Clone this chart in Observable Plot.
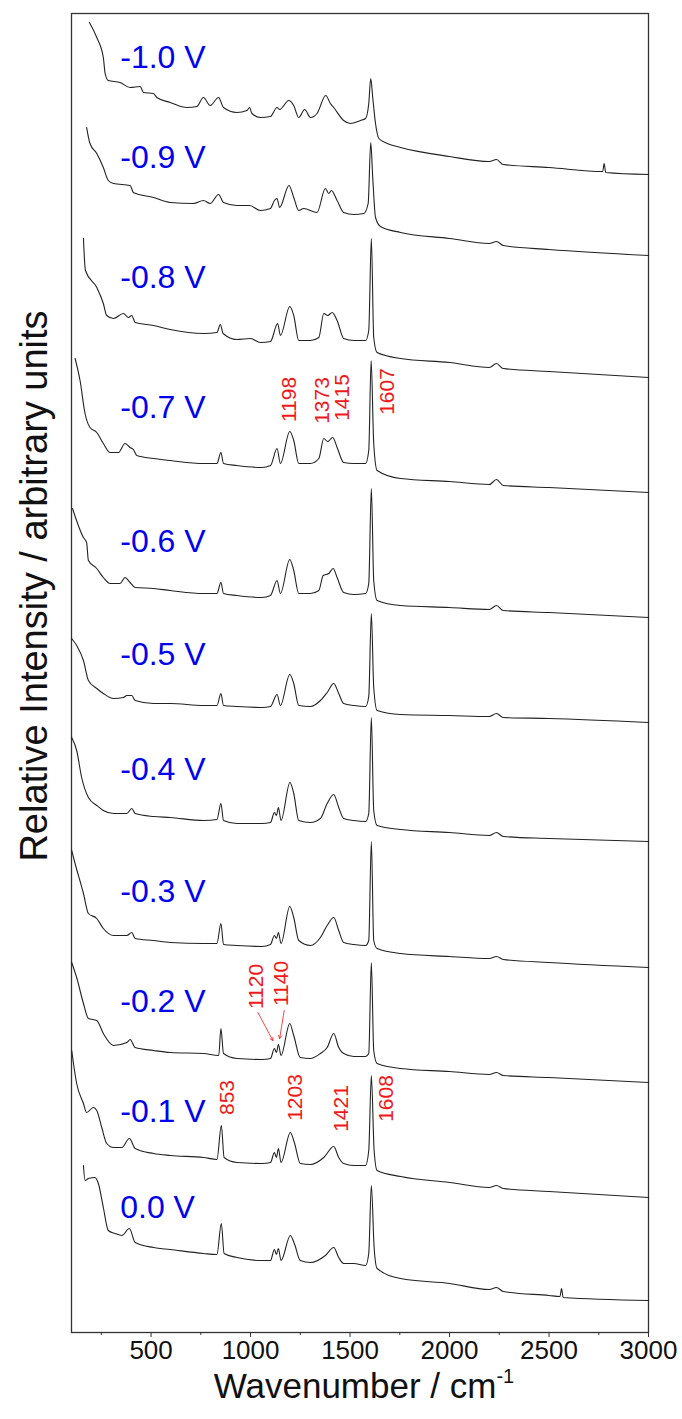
<!DOCTYPE html>
<html><head><meta charset="utf-8">
<script src="https://cdn.jsdelivr.net/npm/d3@7"></script>
<script src="https://cdn.jsdelivr.net/npm/@observablehq/plot@0.6"></script>
<style>body{margin:0;background:#fff}#chart{width:682px;height:1419px}</style>
</head><body><div id="chart"></div>
<script>
// Spectra: [wavenumber (cm-1), relative intensity incl. stacking offset (arb. units)]
const spectrum_m10 = [[190,1310],[227,1295],[260,1275],[269,1259],[285,1252],[344,1250],[395,1245],[445,1246],[462,1240],[512,1239],[529,1235],[596,1230],[680,1225],[730,1226],[763,1235],[797,1227],[839,1235],[864,1225],[931,1220],[982,1222],[995,1225],[1007,1219],[1049,1215],[1100,1216],[1133,1225],[1146,1223],[1192,1232],[1217,1227],[1242,1215],[1272,1223],[1301,1215],[1334,1219],[1378,1237],[1401,1229],[1418,1225],[1468,1212],[1502,1209],[1552,1212],[1578,1214],[1594,1229],[1604,1254],[1614,1235],[1628,1209],[1645,1194],[1687,1189],[1754,1185],[2000,1176],[2200,1171],[2236,1173],[2270,1168],[2500,1165],[2770,1161],[2777,1169],[2785,1160],[3000,1158]];
const spectrum_m09 = [[176,1205],[193,1189],[227,1179],[260,1165],[285,1152],[311,1149],[395,1147],[411,1140],[512,1135],[596,1130],[713,1129],[763,1132],[797,1129],[839,1138],[864,1130],[931,1127],[995,1127],[1049,1122],[1100,1124],[1120,1132],[1133,1134],[1146,1125],[1193,1147],[1217,1135],[1242,1122],[1267,1124],[1334,1120],[1376,1144],[1393,1139],[1406,1142],[1435,1132],[1468,1120],[1519,1118],[1569,1119],[1591,1129],[1604,1190],[1614,1155],[1628,1115],[1653,1106],[1754,1100],[2000,1094],[2200,1089],[2236,1091],[2270,1087],[2500,1083],[3000,1077]];
const spectrum_m08 = [[160,1094],[170,1062],[227,1045],[260,1029],[277,1017],[311,1014],[361,1019],[386,1015],[403,1017],[420,1010],[512,1007],[596,1003],[764,999],[831,1000],[848,1008],[862,999],[931,993],[999,994],[1049,990],[1100,991],[1136,1009],[1150,997],[1197,1026],[1217,1017],[1242,992],[1301,992],[1343,995],[1368,1019],[1388,1017],[1410,1020],[1435,1012],[1468,994],[1519,992],[1578,992],[1594,1002],[1607,1094],[1619,995],[1636,980],[1754,974],[2000,970],[2200,965],[2236,969],[2270,964],[2500,961],[3000,955]];
const spectrum_m07 = [[118,974],[143,952],[168,919],[193,905],[227,900],[260,889],[294,880],[336,880],[369,889],[394,885],[411,883],[428,877],[512,874],[596,872],[764,869],[831,869],[851,880],[864,869],[931,867],[1057,865],[1100,867],[1133,884],[1150,869],[1197,901],[1217,892],[1242,869],[1301,869],[1343,874],[1368,894],[1388,891],[1413,895],[1435,885],[1468,870],[1519,869],[1578,869],[1594,882],[1606,972],[1619,889],[1636,862],[1754,854],[2000,851],[2200,848],[2236,853],[2270,847],[2500,845],[3000,840]];
const spectrum_m06 = [[105,824],[160,795],[176,790],[185,772],[227,764],[260,755],[294,749],[344,749],[369,755],[394,750],[420,745],[512,744],[596,742],[764,739],[831,739],[851,750],[864,739],[931,737],[1057,735],[1100,737],[1133,752],[1150,739],[1197,773],[1217,762],[1242,739],[1301,739],[1343,742],[1365,757],[1393,759],[1415,764],[1435,755],[1468,740],[1519,738],[1578,739],[1594,749],[1607,844],[1619,752],[1636,732],[1754,727],[2000,725],[2200,723],[2236,727],[2270,722],[2500,720],[3000,715]];
const spectrum_m05 = [[101,694],[126,687],[160,672],[185,652],[227,644],[260,639],[311,634],[361,635],[378,637],[403,637],[420,632],[512,629],[596,629],[764,627],[831,627],[851,639],[864,627],[931,626],[1057,625],[1100,626],[1133,638],[1150,627],[1197,658],[1217,649],[1242,627],[1301,626],[1351,632],[1385,640],[1418,649],[1443,639],[1468,629],[1519,627],[1578,626],[1594,636],[1607,719],[1619,645],[1636,622],[1754,618],[2000,617],[2200,616],[2236,619],[2270,615],[2500,614],[3000,610]];
const spectrum_m04 = [[101,595],[126,582],[151,555],[185,535],[227,527],[260,522],[311,519],[378,519],[403,524],[420,519],[512,516],[596,515],[764,512],[831,513],[851,529],[864,512],[931,509],[1057,509],[1100,510],[1120,520],[1130,517],[1140,525],[1153,512],[1198,550],[1217,539],[1242,512],[1301,510],[1351,514],[1385,529],[1418,538],[1443,525],[1468,514],[1519,512],[1578,511],[1594,519],[1607,615],[1619,522],[1636,507],[1754,503],[2000,500],[2200,497],[2236,500],[2270,496],[2500,494],[3000,491]];
const spectrum_m03 = [[101,482],[118,469],[160,439],[185,419],[227,414],[260,404],[311,397],[378,397],[403,400],[420,394],[512,392],[596,390],[764,389],[831,389],[851,409],[864,388],[931,387],[1057,386],[1100,388],[1120,397],[1130,394],[1140,400],[1153,389],[1197,426],[1217,415],[1242,392],[1301,387],[1351,395],[1385,407],[1418,415],[1443,402],[1468,390],[1519,388],[1578,387],[1594,392],[1607,491],[1619,392],[1636,384],[1754,379],[2000,376],[2200,374],[2236,376],[2270,373],[2500,370],[3000,365]];
const spectrum_m02 = [[101,370],[126,355],[160,329],[185,314],[227,312],[260,299],[311,287],[378,290],[395,293],[420,285],[512,282],[596,280],[764,279],[840,277],[851,304],[864,279],[931,274],[1057,273],[1100,274],[1120,284],[1130,280],[1140,288],[1153,277],[1197,309],[1217,297],[1250,275],[1301,274],[1351,279],[1385,285],[1418,299],[1443,285],[1468,279],[1519,276],[1578,276],[1594,279],[1607,370],[1619,282],[1636,269],[1754,264],[2000,261],[2200,258],[2236,260],[2270,257],[2500,255],[3000,250]];
const spectrum_m01 = [[101,282],[110,269],[126,249],[160,229],[176,220],[210,225],[227,222],[252,205],[277,189],[311,185],[353,185],[391,194],[420,184],[512,179],[596,177],[764,175],[831,173],[853,207],[867,175],[931,170],[1057,169],[1100,170],[1120,180],[1130,175],[1140,184],[1153,170],[1200,200],[1220,190],[1250,169],[1301,168],[1368,175],[1418,186],[1443,175],[1468,169],[1519,167],[1578,167],[1594,182],[1607,257],[1621,182],[1636,162],[1754,156],[2000,150],[2200,145],[2236,147],[2270,144],[2500,141],[3000,135]];
const spectrum_m00 = [[160,167],[168,152],[185,154],[218,155],[235,149],[260,125],[285,102],[319,99],[353,97],[391,104],[420,90],[512,85],[596,83],[764,79],[831,78],[853,109],[867,79],[931,75],[1057,72],[1100,72],[1120,83],[1130,78],[1140,84],[1153,72],[1200,97],[1220,89],[1250,72],[1301,70],[1376,77],[1418,85],[1443,75],[1468,69],[1519,69],[1578,67],[1594,79],[1607,147],[1621,85],[1636,64],[1754,54],[2000,49],[2200,43],[2236,45],[2270,41],[2500,37],[2555,36],[2563,44],[2571,35],[3000,32]];

const potentials = ["-1.0 V","-0.9 V","-0.8 V","-0.7 V","-0.6 V","-0.5 V","-0.4 V","-0.3 V","-0.2 V","-0.1 V","0.0 V"];
const potentialLabelY = [1275,1175,1055,925,791,678,563,441,331,221,125];
const potentialLabelX = 345;

const peakText = ["1198","1373","1415","1607","1120","1140","853","1203","1421","1608"];
const peakTextX = [1195,1358,1461,1688,1029,1154,883,1225,1456,1683];
const peakTextY = [933,932,935,941,346,349,235,235,224,234];

const arrowFrom = [[1037,320],[1169,322]];
const arrowTo = [[1112,292],[1146,294]];

const majorTicks = [500,1000,1500,2000,2500,3000];
const minorTicks = [250,750,1250,1750,2250,2750];

const spectraList = [spectrum_m10,spectrum_m09,spectrum_m08,spectrum_m07,spectrum_m06,spectrum_m05,spectrum_m04,spectrum_m03,spectrum_m02,spectrum_m01,spectrum_m00];
const rows = spectraList.flatMap((s, i) => s.map(([w, v]) => ({w, v, series: potentials[i]})));
const labelRows = potentials.map((t, i) => ({t, x: potentialLabelX, y: potentialLabelY[i]}));
const peakRows = peakText.map((t, i) => ({t, x: peakTextX[i], y: peakTextY[i]}));
const arrowRows = arrowFrom.map((f, i) => ({x1: f[0], y1: f[1], x2: arrowTo[i][0], y2: arrowTo[i][1]}));

const font = "'Liberation Sans', Arial, sans-serif";
const chart = Plot.plot({
  width: 682, height: 1419,
  marginTop: 13, marginLeft: 71, marginRight: 34, marginBottom: 87,
  style: {fontFamily: font, background: "#fff"},
  x: {domain: [100, 3000]},
  y: {domain: [0, 1319], axis: null},
  marks: [
    Plot.frame({stroke: "#333", strokeWidth: 1.3}),
    Plot.axisX({ticks: minorTicks, tickSize: 3, tickFormat: () => "", stroke: "#333"}),
    Plot.axisX({ticks: majorTicks, tickSize: 5, tickPadding: 3, fontSize: 26, tickFormat: d => String(d), label: null, stroke: "#333", fill: "#111"}),
    Plot.line(rows, {x: "w", y: "v", z: "series", stroke: "#222", strokeWidth: 1.1, curve: "monotone-x"}),
    Plot.text(labelRows, {x: "x", y: "y", text: "t", fill: "#0000f0", fontSize: 32, textAnchor: "start", lineAnchor: "middle"}),
    Plot.text(peakRows, {x: "x", y: "y", text: "t", fill: "#f01818", fontSize: 21, rotate: -90, textAnchor: "middle", lineAnchor: "middle"}),
    Plot.arrow(arrowRows, {x1: "x1", y1: "y1", x2: "x2", y2: "y2", stroke: "#f01818", strokeWidth: 0.8, headLength: 6})
  ]
});
document.getElementById("chart").appendChild(chart);

const svg = d3.select(chart);
const xt = svg.append("text").attr("x", 364).attr("y", 1398).attr("text-anchor", "middle")
  .attr("font-family", font).attr("font-size", 35).attr("fill", "#111");
xt.append("tspan").text("Wavenumber / cm");
xt.append("tspan").text("-1").attr("font-size", 20).attr("dy", -15);
svg.append("text").attr("transform", "translate(34,586) rotate(-90)").attr("text-anchor", "middle")
  .attr("dy", "0.35em").attr("font-family", font).attr("font-size", 38).attr("fill", "#111")
  .text("Relative Intensity / arbitrary units");
</script></body></html>
